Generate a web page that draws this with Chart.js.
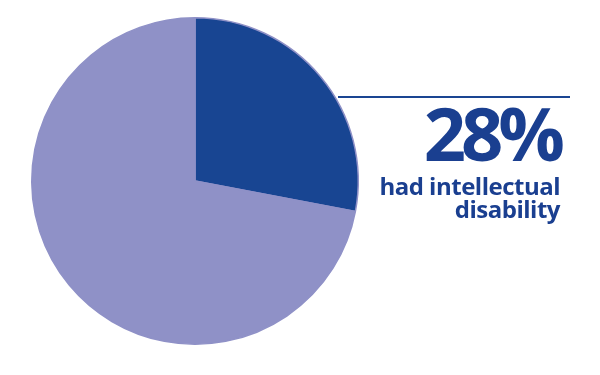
<!DOCTYPE html>
<html>
<head>
<meta charset="utf-8">
<script src="https://cdn.jsdelivr.net/npm/chart.js@4"></script>
<style>
  html, body { margin: 0; padding: 0; background: #fff; }
  #wrap { position: relative; width: 600px; height: 375px; overflow: hidden; }
  #rule { position: absolute; left: 338px; top: 96px; width: 232px; height: 2px; background: #1a4592; }
  .callout { position: absolute; right: 40px; text-align: right; color: #1a3f90;
             font-family: "Open Sans", sans-serif; font-weight: 700; white-space: nowrap; }
  #big { top: 88px; font-size: 74px; line-height: 90px; letter-spacing: -5px; }
  #sub { top: 174px; font-size: 24px; line-height: 23px; letter-spacing: -0.5px; }
</style>
</head>
<body>
<div id="wrap">
  <canvas id="chart" width="600" height="375"></canvas>
  <div id="rule"></div>
  <div class="callout" id="big">28%</div>
  <div class="callout" id="sub">had intellectual<br>disability</div>
</div>
<script>
const labels = ['Had intellectual disability', 'Did not']
const values = [28, 72]
const colors = ['#184592', '#8f91c7']

const chart = new Chart(document.getElementById('chart'), {
    type: 'pie',
    data: {
        labels,
        datasets: [{
            data: values,
            backgroundColor: colors,
            borderColor: '#8f91c7',
            borderWidth: 1.5,
        }]
    },
    options: {
        responsive: false,
        animation: false,
        layout: { padding: { left: 31, right: 241, top: 17, bottom: 30 } },
        plugins: { legend: { display: false }, tooltip: { enabled: false } },
    }
})
</script>
</body>
</html>
